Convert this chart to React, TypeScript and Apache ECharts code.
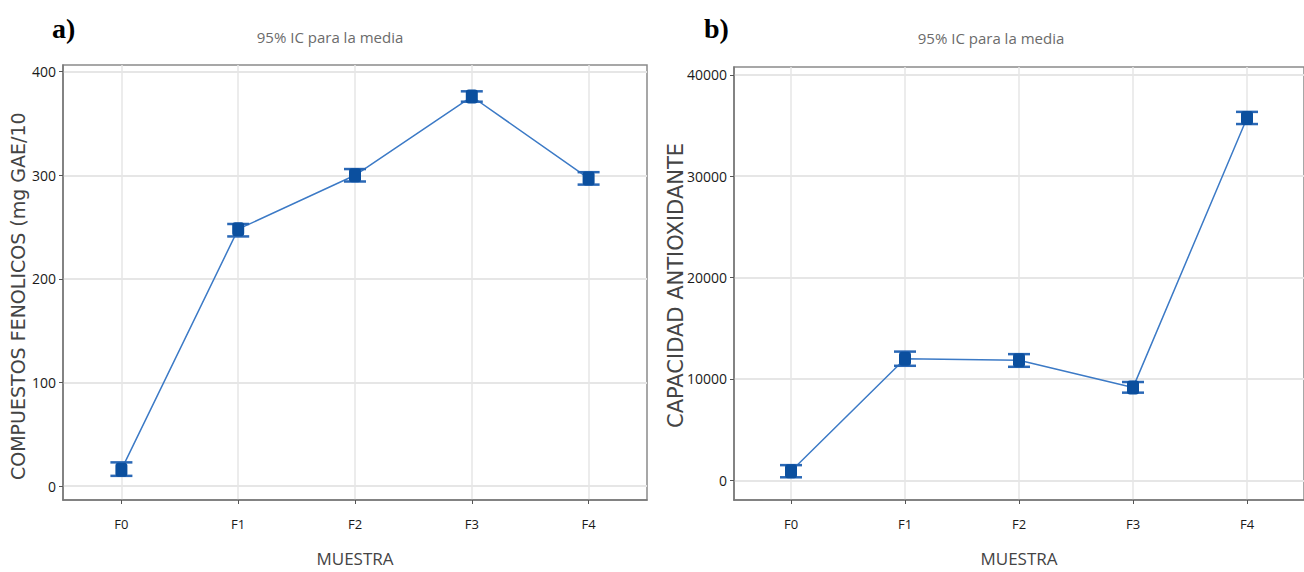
import React, { useEffect, useRef } from "react";
import * as echarts from "echarts";

const categories = ["F0", "F1", "F2", "F3", "F4"];
const phenolMean = [16, 248, 300, 376, 297];
const phenolLow = [10, 241, 294, 371, 291];
const phenolHigh = [23, 253, 306, 381, 303];
const antioxMean = [900, 12000, 11850, 9150, 35750];
const antioxLow = [300, 11300, 11200, 8650, 35150];
const antioxHigh = [1500, 12700, 12450, 9700, 36350];
const phenolTicks = [0, 100, 200, 300, 400];
const antioxTicks = [0, 10000, 20000, 30000, 40000];

const chartTitle = "95% IC para la media";
const xName = "MUESTRA";
const yNameA = "COMPUESTOS FENOLICOS (mg GAE/10";
const yNameB = "CAPACIDAD ANTIOXIDANTE";

const LINE = "#3c7ac6";
const BAR = "#2a68b6";
const MARK = "#0b4f9e";

function errorRender(params: any, api: any) {
  const i = api.value(0);
  const pm = api.coord([i, api.value(1)]);
  const pl = api.coord([i, api.value(2)]);
  const ph = api.coord([i, api.value(3)]);
  const hw = 11;
  return {
    type: "group",
    children: [
      { type: "line", shape: { x1: pm[0], y1: pl[1], x2: pm[0], y2: ph[1] }, style: { stroke: BAR, lineWidth: 2 } },
      { type: "line", shape: { x1: pm[0] - hw, y1: ph[1], x2: pm[0] + hw, y2: ph[1] }, style: { stroke: BAR, lineWidth: 2.5 } },
      { type: "line", shape: { x1: pm[0] - hw, y1: pl[1], x2: pm[0] + hw, y2: pl[1] }, style: { stroke: BAR, lineWidth: 2.5 } },
      { type: "rect", shape: { x: pm[0] - 6, y: pm[1] - 7, width: 12, height: 14, r: 3 }, style: { fill: MARK } },
    ],
  };
}

const tickFont = { fontFamily: "Open Sans", fontSize: 14, color: "#1a1a1a" };

function xAxisCfg(gridIndex: number) {
  return {
    type: "category",
    gridIndex,
    data: categories,
    boundaryGap: true,
    name: xName,
    nameLocation: "middle",
    nameGap: 50,
    nameTextStyle: { fontFamily: "Open Sans", fontSize: 17, color: "#444" },
    axisLine: { show: true, onZero: false, lineStyle: { color: "#777", width: 1.5 } },
    axisTick: { show: true, alignWithLabel: true, length: 4, lineStyle: { color: "#555" } },
    axisLabel: { ...tickFont, fontSize: 13, margin: 17 },
    splitLine: { show: true, alignWithLabel: true, lineStyle: { color: "#e6e6e6", width: 1.5 } },
  };
}

function yAxisCfg(gridIndex: number, min: number, max: number, ticks: number[]) {
  return {
    type: "value",
    gridIndex,
    min,
    max,
    axisLine: { show: true, onZero: false, lineStyle: { color: "#777", width: 1.5 } },
    axisTick: { show: true, length: 4, customValues: ticks, lineStyle: { color: "#555" } },
    axisLabel: { ...tickFont, margin: 7, customValues: ticks, formatter: (v: number) => String(v) },
    splitLine: { show: true, lineStyle: { color: "#e6e6e6", width: 2 } },
  };
}

export default function App() {
  const ref = useRef<HTMLDivElement>(null);
  useEffect(() => {
    if (!ref.current) return;
    const chart = echarts.init(ref.current, null, { renderer: "svg" });
    const errA = categories.map((_, i) => [i, phenolMean[i], phenolLow[i], phenolHigh[i]]);
    const errB = categories.map((_, i) => [i, antioxMean[i], antioxLow[i], antioxHigh[i]]);
    chart.setOption({
      animation: false,
      backgroundColor: "#ffffff",
      grid: [
        { left: 63, top: 65, width: 584, height: 441, show: true, borderColor: "#8a8a8a", borderWidth: 1.5, backgroundColor: "transparent" },
        { left: 734, top: 67, width: 580, height: 440, show: true, borderColor: "#8a8a8a", borderWidth: 1.5, backgroundColor: "transparent" },
      ],
      xAxis: [xAxisCfg(0), xAxisCfg(1)],
      yAxis: [yAxisCfg(0, -13.3, 406.4, phenolTicks), yAxisCfg(1, -1940, 40777, antioxTicks)],
      series: [
        { type: "line", xAxisIndex: 0, yAxisIndex: 0, data: phenolMean, showSymbol: false, lineStyle: { color: LINE, width: 1.5 }, z: 2 },
        { type: "custom", xAxisIndex: 0, yAxisIndex: 0, data: errA, renderItem: errorRender, z: 3 },
        { type: "line", xAxisIndex: 1, yAxisIndex: 1, data: antioxMean, showSymbol: false, lineStyle: { color: LINE, width: 1.5 }, z: 2 },
        { type: "custom", xAxisIndex: 1, yAxisIndex: 1, data: errB, renderItem: errorRender, z: 3 },
      ],
      graphic: [
        { type: "text", left: 52, top: 14, style: { text: "a)", font: 'bold 28px "Liberation Serif"', fill: "#000" } },
        { type: "text", left: 704, top: 14, style: { text: "b)", font: 'bold 28px "Liberation Serif"', fill: "#000" } },
        { type: "text", x: 330, y: 37, style: { text: chartTitle, font: '15px "Open Sans"', fill: "#6b6b6b", textAlign: "center", textVerticalAlign: "middle" } },
        { type: "text", x: 991, y: 38, style: { text: chartTitle, font: '15px "Open Sans"', fill: "#6b6b6b", textAlign: "center", textVerticalAlign: "middle" } },
        { type: "text", x: 18, y: 480, rotation: Math.PI / 2, style: { text: yNameA, font: '19px "DejaVu Sans"', fill: "#444", textAlign: "left", textVerticalAlign: "middle" } },
        { type: "text", x: 676, y: 428, rotation: Math.PI / 2, style: { text: yNameB, font: '21px "DejaVu Sans"', fill: "#444", textAlign: "left", textVerticalAlign: "middle" } },
      ],
    });
    return () => chart.dispose();
  }, []);
  return (
    <div style={{ position: "fixed", left: 0, top: 0, width: 1304, height: 572, overflow: "hidden", background: "#fff" }}>
      <div ref={ref} style={{ width: 1304, height: 572 }} />
    </div>
  );
}
